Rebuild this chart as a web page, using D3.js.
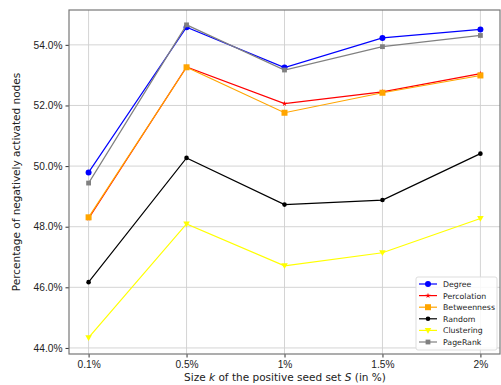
<!DOCTYPE html>
<html>
<head>
<meta charset="utf-8">
<script src="https://cdn.jsdelivr.net/npm/d3@7"></script>
<style>
  body { margin: 0; background: #fff; }
  svg { display: block; font-family: "DejaVu Sans", sans-serif; }
</style>
</head>
<body>
<svg id="chart" width="501" height="385"></svg>
<script>
// data (percent of negatively activated nodes)
const sizes = ["0.1%", "0.5%", "1%", "1.5%", "2%"]
const yTicks = [44, 46, 48, 50, 52, 54]
const degree      = [49.79, 54.58, 53.25, 54.23, 54.51]
const percolation = [48.27, 53.27, 52.06, 52.45, 53.05]
const betweenness = [48.31, 53.26, 51.76, 52.42, 52.99]
const randomSel   = [46.17, 50.27, 48.73, 48.88, 50.41]
const clustering  = [44.34, 48.09, 46.71, 47.14, 48.27]
const pagerank    = [49.44, 54.66, 53.17, 53.94, 54.31]

const series = [
  {name: "Degree", values: degree, color: "blue", marker: "circle"},
  {name: "Percolation", values: percolation, color: "red", marker: "star"},
  {name: "Betweenness", values: betweenness, color: "orange", marker: "square"},
  {name: "Random", values: randomSel, color: "black", marker: "dot"},
  {name: "Clustering", values: clustering, color: "yellow", marker: "tri"},
  {name: "PageRank", values: pagerank, color: "grey", marker: "smallsquare"}
]

const MARGIN = {left: 69, top: 10, right: 1, bottom: 31}
const W = 501, H = 385
const svg = d3.select("#chart")

const x = d3.scaleLinear().domain([-0.2, 4.2]).range([MARGIN.left, W - MARGIN.right])
const y = d3.scaleLinear().domain([43.8, 55.15]).range([H - MARGIN.bottom, MARGIN.top])

// grid
const grid = svg.append("g")
grid.selectAll("line.v").data(sizes).enter().append("line")
  .attr("x1", (d, i) => x(i)).attr("x2", (d, i) => x(i))
  .attr("y1", y.range()[0]).attr("y2", y.range()[1])
  .attr("stroke", "#cfcfcf").attr("stroke-width", 0.9)
grid.selectAll("line.h").data(yTicks).enter().append("line")
  .attr("x1", x.range()[0]).attr("x2", x.range()[1])
  .attr("y1", d => y(d)).attr("y2", d => y(d))
  .attr("stroke", "#cfcfcf").attr("stroke-width", 0.9)

// axes
const yAxis = d3.axisLeft(y).tickValues(yTicks).tickFormat(d => d.toFixed(1) + "%").tickSize(3.5).tickPadding(3)
const xAxis = d3.axisBottom(x).tickValues(d3.range(sizes.length)).tickFormat(i => sizes[i]).tickSize(3.5).tickPadding(3)

svg.append("g").attr("transform", `translate(${MARGIN.left},0)`).call(yAxis)
  .call(g => g.select(".domain").remove())
  .call(g => g.selectAll("text").attr("font-size", 10.2).attr("fill", "#222"))
  .call(g => g.selectAll("line").attr("stroke", "#333"))
svg.append("g").attr("transform", `translate(0,${H - MARGIN.bottom})`).call(xAxis)
  .call(g => g.select(".domain").remove())
  .call(g => g.selectAll("text").attr("font-size", 10.2).attr("fill", "#222"))
  .call(g => g.selectAll("line").attr("stroke", "#333"))

// frame
svg.append("rect")
  .attr("x", MARGIN.left).attr("y", MARGIN.top)
  .attr("width", W - MARGIN.right - MARGIN.left).attr("height", H - MARGIN.bottom - MARGIN.top)
  .attr("fill", "none").attr("stroke", "#777").attr("stroke-width", 1.2)

// markers
function drawMarker(g, type, cx, cy, color) {
  if (type === "circle") {
    g.append("circle").attr("cx", cx).attr("cy", cy).attr("r", 3).attr("fill", color)
  } else if (type === "dot") {
    g.append("circle").attr("cx", cx).attr("cy", cy).attr("r", 2.3).attr("fill", color)
  } else if (type === "square") {
    g.append("rect").attr("x", cx - 3).attr("y", cy - 3).attr("width", 6).attr("height", 6).attr("fill", color)
  } else if (type === "smallsquare") {
    g.append("rect").attr("x", cx - 2.4).attr("y", cy - 2.4).attr("width", 4.8).attr("height", 4.8).attr("fill", color)
  } else if (type === "star") {
    g.append("path").attr("d", d3.symbol(d3.symbolStar, 9)()).attr("transform", `translate(${cx},${cy})`).attr("fill", color)
  } else if (type === "tri") {
    g.append("path").attr("d", `M${cx - 3.3},${cy - 2.5}L${cx + 3.3},${cy - 2.5}L${cx},${cy + 3.3}Z`).attr("fill", color)
  }
}

const line = d3.line().x((d, i) => x(i)).y(d => y(d))
series.forEach(s => {
  const g = svg.append("g")
  g.append("path").datum(s.values)
    .attr("d", line).attr("fill", "none")
    .attr("stroke", s.color).attr("stroke-width", 1.2)
  s.values.forEach((v, i) => drawMarker(g, s.marker, x(i), y(v), s.color))
})

// axis labels
svg.append("text")
  .attr("transform", `translate(20,${(MARGIN.top + H - MARGIN.bottom) / 2}) rotate(-90)`)
  .attr("text-anchor", "middle").attr("font-size", 10.5).attr("fill", "#222")
  .text("Percentage of negatively activated nodes")

const xl = svg.append("text")
  .attr("x", 285).attr("y", 381)
  .attr("text-anchor", "middle").attr("font-size", 10.5).attr("fill", "#222")
xl.append("tspan").text("Size ")
xl.append("tspan").attr("font-style", "italic").text("k")
xl.append("tspan").text(" of the positive seed set ")
xl.append("tspan").attr("font-style", "italic").text("S")
xl.append("tspan").text(" (in %)")

// legend
const lg = svg.append("g").attr("transform", "translate(416,277)")
lg.append("rect").attr("width", 81).attr("height", 73).attr("rx", 2)
  .attr("fill", "white").attr("fill-opacity", 0.85).attr("stroke", "#ddd")
series.forEach((s, i) => {
  const ly = 7 + i * 11.6
  lg.append("line").attr("x1", 3).attr("x2", 21).attr("y1", ly).attr("y2", ly)
    .attr("stroke", s.color).attr("stroke-width", 1.2)
  drawMarker(lg, s.marker, 12, ly, s.color)
  lg.append("text").attr("x", 27).attr("y", ly + 3).attr("font-size", 7.8).attr("fill", "#222").text(s.name)
})
</script>
</body>
</html>
